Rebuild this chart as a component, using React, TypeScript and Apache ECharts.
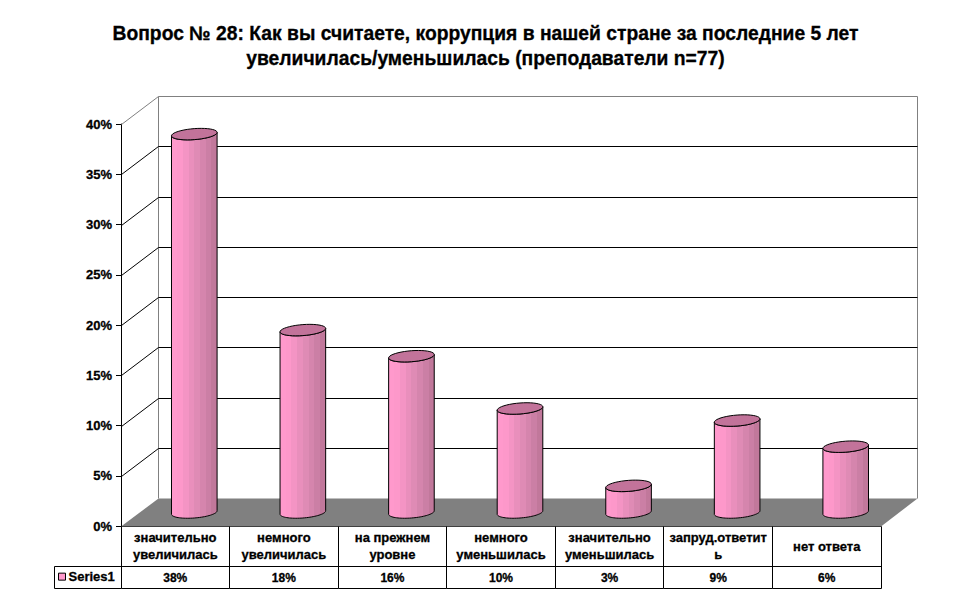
import React, { useEffect, useRef } from "react";
import * as echarts from "echarts";

const titleText = "Вопрос № 28: Как вы считаете, коррупция в нашей стране за последние 5 лет\nувеличилась/уменьшилась (преподаватели n=77)";
const categories = [
  "значительно\nувеличилась",
  "немного\nувеличилась",
  "на прежнем\nуровне",
  "немного\nуменьшилась",
  "значительно\nуменьшилась",
  "запруд.ответит\nь",
  "нет ответа",
];
const values = [37.6, 18.1, 15.5, 10.3, 2.6, 9.1, 6.5];
const tableLabels = ["38%", "18%", "16%", "10%", "3%", "9%", "6%"];
const yTicks = [0, 5, 10, 15, 20, 25, 30, 35, 40];
const seriesName = "Series1";

const DX = 37;
const DY = -28;
const FONT = "'Liberation Sans', Arial, sans-serif";
const BANDS = ["#FF99CC", "#FD98CA", "#F494C4", "#E98FBC", "#DF8BB5", "#D585AD", "#CB7FA5", "#C1789B"];
const TOP_COLOR = "#C2739A";
const HEAVY = { textBorderColor: "#000", textBorderWidth: 0.3 };

function bandedFill() {
  const colorStops: { offset: number; color: string }[] = [];
  BANDS.forEach((c, i) => {
    colorStops.push({ offset: i / BANDS.length, color: c });
    colorStops.push({ offset: (i + 1) / BANDS.length, color: c });
  });
  return new echarts.graphic.LinearGradient(0, 0, 1, 0, colorStops);
}

function ellipsePts(cx: number, cy: number, rx: number, ry: number, tilt: number, from: number, to: number) {
  const pts: number[][] = [];
  const n = 40;
  for (let k = 0; k <= n; k++) {
    const t = from + ((to - from) * k) / n;
    const c = Math.cos(t);
    pts.push([cx + rx * c, cy + ry * Math.sin(t) - tilt * c]);
  }
  return pts;
}

function renderWalls(params: any, api: any) {
  const v = api.value(1);
  const p = api.coord([0, v]);
  const cs = params.coordSys;
  const left = cs.x;
  const right = cs.x + cs.width;
  const y = Math.round(p[1]) + 0.5;
  const bx = left + DX + 0.5;
  const ex = right + DX - 0.5;
  const children: any[] = [];
  if (v === 0) {
    children.push({
      type: "polygon",
      shape: { points: [[left, y], [right, y], [ex, y + DY], [bx, y + DY]] },
      style: { fill: "#808080", stroke: null },
    });
    children.push({
      type: "line",
      shape: { x1: bx, y1: y + DY, x2: bx, y2: cs.y + DY + 0.5 },
      style: { stroke: "#808080", lineWidth: 1 },
    });
    children.push({
      type: "line",
      shape: { x1: ex, y1: y + DY, x2: ex, y2: cs.y + DY + 0.5 },
      style: { stroke: "#808080", lineWidth: 1 },
    });
  } else {
    const col = v === 40 ? "#808080" : "#000000";
    children.push({
      type: "line",
      shape: { x1: left + 0.5, y1: y, x2: bx, y2: y + DY },
      style: { stroke: col, lineWidth: 1 },
    });
    children.push({
      type: "line",
      shape: { x1: bx, y1: y + DY, x2: ex, y2: y + DY },
      style: { stroke: col, lineWidth: 1 },
    });
  }
  return { type: "group", children };
}

function renderCylinder(_params: any, api: any) {
  const i = api.value(0);
  const v = api.value(1);
  const top = api.coord([i, v]);
  const base = api.coord([i, 0]);
  const cx = top[0] + DX / 2 + 0.5;
  const topY = top[1] + DY / 2;
  const baseY = base[1] + DY / 2 + 0.5;
  const rx = api.size([1, 0])[0] * 0.21;
  const ry = 5.5;
  const tilt = 1.7;
  const lower = ellipsePts(cx, baseY, rx, ry, tilt, Math.PI, 0);
  const upper = ellipsePts(cx, topY, rx, ry, tilt, 0, Math.PI);
  const full = ellipsePts(cx, topY, rx, ry, tilt, 0, Math.PI * 2);
  return {
    type: "group",
    children: [
      {
        type: "polygon",
        shape: { points: [...lower, ...upper] },
        style: { fill: bandedFill(), stroke: "#000", lineWidth: 1 },
      },
      {
        type: "polygon",
        shape: { points: full },
        style: { fill: TOP_COLOR, stroke: "#000", lineWidth: 1 },
      },
    ],
  };
}

function renderTable(_params: any, api: any) {
  const i = api.value(0);
  const p = api.coord([i, 0]);
  const w = api.size([1, 0])[0];
  const y0 = Math.round(p[1]) + 0.5;
  const y1 = 566.5;
  const y2 = 588.5;
  const xL = Math.floor(p[0] - w / 2 + 0.01) + 0.5;
  const xR = Math.floor(p[0] + w / 2 + 0.01) + 0.5;
  const line = (x1: number, y1_: number, x2: number, y2_: number) => ({
    type: "line",
    shape: { x1, y1: y1_, x2, y2: y2_ },
    style: { stroke: "#000", lineWidth: 1 },
  });
  const children: any[] = [
    line(xL, y1, xR, y1),
    line(xL, y2, xR, y2),
    line(xR, y0, xR, y2),
    {
      type: "text",
      style: {
        x: p[0],
        y: (y1 + y2) / 2,
        text: tableLabels[i],
        align: "center",
        verticalAlign: "middle",
        font: `bold 12px ${FONT}`,
        fill: "#000",
        stroke: "#000",
        lineWidth: 0.3,
      },
    },
  ];
  if (i === 0) {
    const lx = 54.5;
    children.push(line(xL, y0, xL, y2), line(lx, y1, xL, y1), line(lx, y2, xL, y2), line(lx, y1, lx, y2));
  }
  return { type: "group", children };
}

export default function App() {
  const ref = useRef<HTMLDivElement>(null);
  useEffect(() => {
    const chart = echarts.init(ref.current!, null, { renderer: "svg" });
    chart.setOption({
      animation: false,
      backgroundColor: "#fff",
      textStyle: { fontFamily: FONT },
      title: {
        text: titleText,
        left: 480.5,
        top: 16,
        textAlign: "center",
        textStyle: { fontFamily: FONT, fontWeight: "bold", fontSize: 19.3, lineHeight: 25, color: "#000", align: "center", ...HEAVY },
      },
      legend: {
        data: [seriesName],
        left: 58,
        top: 570,
        itemWidth: 7,
        itemHeight: 7,
        itemGap: 3,
        selectedMode: false,
        icon: "rect",
        padding: 0,
        itemStyle: { color: "#FF99CC", borderColor: "#000", borderWidth: 1 },
        textStyle: { fontFamily: FONT, fontWeight: "bold", fontSize: 13, color: "#000", padding: [0, 0, 0, -2], ...HEAVY },
      },
      grid: { left: 121, top: 124, width: 760, height: 402, containLabel: false },
      xAxis: {
        type: "category",
        data: categories,
        axisLine: { show: true, lineStyle: { color: "#000", width: 1 } },
        axisTick: { show: false },
        axisLabel: {
          interval: 0,
          margin: 20,
          verticalAlign: "middle",
          fontFamily: FONT,
          fontWeight: "bold",
          fontSize: 13,
          lineHeight: 17,
          color: "#000",
          ...HEAVY,
        },
      },
      yAxis: {
        type: "value",
        min: 0,
        max: 40,
        interval: 5,
        splitLine: { show: false },
        axisLine: { show: true, lineStyle: { color: "#000", width: 1 } },
        axisTick: { show: true, length: 5, lineStyle: { color: "#000", width: 1 } },
        axisLabel: {
          formatter: "{value}%",
          margin: 9,
          fontFamily: FONT,
          fontWeight: "bold",
          fontSize: 13,
          color: "#000",
          ...HEAVY,
        },
      },
      series: [
        {
          name: "walls",
          type: "custom",
          z: 1,
          silent: true,
          renderItem: renderWalls,
          encode: { x: 0, y: 1 },
          data: yTicks.map((t) => [0, t]),
        },
        {
          name: "table",
          type: "custom",
          z: 1,
          silent: true,
          renderItem: renderTable,
          encode: { x: 0, y: 1 },
          data: categories.map((_, i) => [i, 0]),
        },
        {
          name: seriesName,
          type: "custom",
          z: 3,
          itemStyle: { color: "#FF99CC" },
          renderItem: renderCylinder,
          encode: { x: 0, y: 1 },
          data: values.map((v, i) => [i, v]),
        },
      ],
    });
    return () => chart.dispose();
  }, []);
  return <div ref={ref} style={{ position: "absolute", left: 0, top: 0, width: 970, height: 604 }} />;
}
